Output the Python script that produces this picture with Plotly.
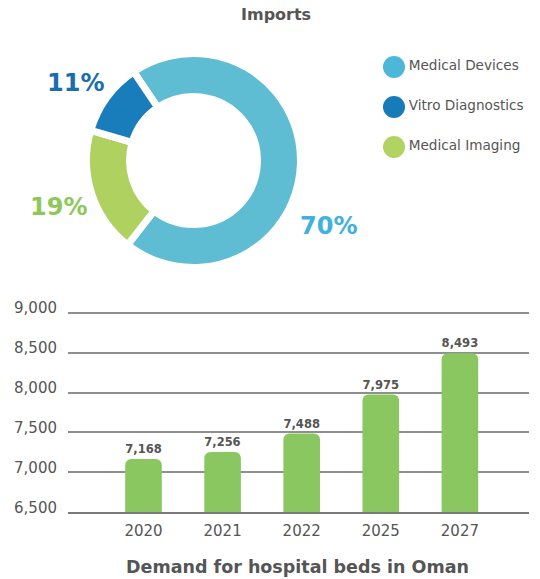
import plotly.graph_objects as go

# ---- data ----
import_labels = ["Medical Devices", "Medical Imaging", "Vitro Diagnostics"]
import_values = [70, 19, 11]
import_colors = ["#5EBCD3", "#AED15F", "#1A7DBB"]
pct_colors = ["#3FB2DE", "#8FC85A", "#176FAE"]

legend_labels = ["Medical Devices", "Vitro Diagnostics", "Medical Imaging"]
legend_colors = ["#4DB7DA", "#187BB9", "#B0D361"]

years = ["2020", "2021", "2022", "2025", "2027"]
beds = [7168, 7256, 7488, 7975, 8493]
y_ticks = [6500, 7000, 7500, 8000, 8500, 9000]

W, H = 540, 579
def px(x):
    return x / W
def py(y):
    return 1 - y / H

GRAY = "#555555"
FONT = "DejaVu Sans"

fig = go.Figure()

# donut
cx, cy, R = 193.5, 160.5, 107
fig.add_trace(go.Pie(
    labels=import_labels, values=import_values, hole=0.598,
    sort=False, direction="clockwise", rotation=-34,
    marker=dict(colors=import_colors, line=dict(color="white", width=7)),
    textinfo="none", hoverinfo="label+percent", showlegend=False,
    domain=dict(x=[px(cx - R), px(cx + R)], y=[py(cy + R), py(cy - R)]),
))

# custom legend (circles + labels)
fig.add_trace(go.Scatter(
    x=[0] * len(legend_labels), y=legend_labels, mode="markers+text",
    marker=dict(size=22, color=legend_colors, symbol="circle"),
    text=legend_labels, textposition="middle right",
    textfont=dict(family=FONT, size=13.6, color=GRAY),
    xaxis="x3", yaxis="y3", showlegend=False, hoverinfo="skip",
    cliponaxis=False,
))

# bars
fig.add_trace(go.Bar(
    x=years, y=beds, width=0.463,
    marker=dict(color="#8AC760", cornerradius=6, line=dict(width=0)),
    texttemplate="%{y:,}", textposition="outside",
    textfont=dict(family=FONT, size=12.5, color=GRAY, weight="bold"),
    cliponaxis=False, showlegend=False,
    xaxis="x", yaxis="y",
))

ann = []
# percentage labels
pct_pos = [(328.5, 225.5), (58.3, 207), (75, 83)]
for (x, y), v, c in zip(pct_pos, import_values, pct_colors):
    ann.append(dict(x=px(x), y=py(y), xref="paper", yref="paper",
                    text=f"{v}%", showarrow=False, xanchor="center", yanchor="middle",
                    font=dict(family=FONT, size=24, color=c, weight="bold")))
ann.append(dict(x=px(276), y=py(14), xref="paper", yref="paper", text="Imports",
                showarrow=False, xanchor="center", yanchor="middle",
                font=dict(family=FONT, size=16, color=GRAY, weight="bold")))
ann.append(dict(x=px(297), y=py(567), xref="paper", yref="paper",
                text="Demand for hospital beds in Oman",
                showarrow=False, xanchor="center", yanchor="middle",
                font=dict(family=FONT, size=17.5, color=GRAY, weight="bold")))

x0p, x1p = 68, 529
y9000, y6500 = 312.8, 512.3
ppu = (y6500 - y9000) / 2500.0
top_pad = 40  # data units above 9000 so the 9000 gridline is drawn
step = 79.1
c0 = 143.5

fig.update_layout(
    width=W, height=H, margin=dict(l=0, r=0, t=0, b=0, autoexpand=False),
    paper_bgcolor="white", plot_bgcolor="white",
    font=dict(family=FONT, color=GRAY),
    annotations=ann,
    xaxis=dict(domain=[px(x0p), px(x1p)], type="category",
               range=[(x0p - c0) / step, (x1p - c0) / step],
               showgrid=False, zeroline=False,
               showline=True, linecolor="#7a7a7a", linewidth=1.5,
               ticks="", ticklabelstandoff=4,
               tickfont=dict(family=FONT, size=15, color=GRAY), anchor="y"),
    yaxis=dict(domain=[py(y6500), py(y9000 - top_pad * ppu)], range=[6500, 9000 + top_pad],
               tickvals=y_ticks, tickformat=",", showgrid=True,
               gridcolor="#8f8f8f", gridwidth=1.5, zeroline=False,
               showline=False, ticks="", ticklabelstandoff=10, ticklabelshift=-5,
               tickfont=dict(family=FONT, size=15, color=GRAY), anchor="x"),
    xaxis3=dict(domain=[px(380), px(540)], range=[-14, 146], visible=False,
                anchor="y3", fixedrange=True),
    yaxis3=dict(domain=[py(167), py(47)], range=[2.5, -0.5], visible=False,
                type="category", categoryorder="array", categoryarray=legend_labels,
                anchor="x3", fixedrange=True),
)

fig.write_html("out.html", config={"displayModeBar": False},
               post_script="document.body.style.margin='0';document.body.style.overflow='hidden';")
